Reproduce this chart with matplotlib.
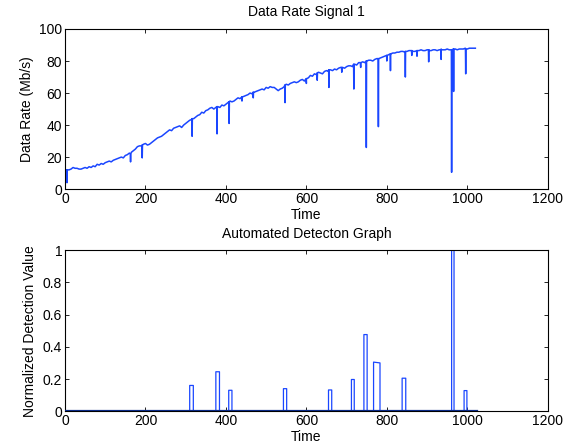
import matplotlib
matplotlib.use("Agg")
import matplotlib.pyplot as plt

plt.rcParams["font.family"] = ["Liberation Sans", "DejaVu Sans"]
plt.rcParams["font.size"] = 10

BLUE = "#1a46ff"

# ─── top panel: data rate trend, read every 5 time units ───
trend_t = list(range(0, 1021, 5))
trend_v = [5, 11, 12, 12.5, 13.5, 13, 13, 12.5, 12.5, 13, 13.5, 13, 14, 13.5, 14.5, 14, 15.5, 15, 16, 15.5,
           16.5, 17, 17.5, 17, 18, 18.5, 19, 19.5, 20, 19.5, 21, 21.5, 22.5, 23, 24, 25, 26.5, 27, 27, 28,
           28.5, 27.5, 28, 29, 30, 31, 32, 32.5, 33, 34, 35, 36, 37, 36.5, 38, 38.5, 39, 39.5, 38.5, 40,
           41, 42, 43, 43.5, 44, 45, 46, 46.5, 48, 47.5, 49, 49.5, 50.5, 51, 50, 51, 51.5, 51, 52.5, 52,
           53, 54, 55, 54.5, 55, 56, 57, 56.5, 57.5, 58, 58.5, 59, 60, 59.5, 60.5, 61, 61.5, 62, 62.5, 62,
           63.5, 63, 64, 63.5, 63.5, 62.5, 61.5, 62.5, 63, 64, 65.5, 65, 66, 66.5, 67, 66.5, 67, 68, 68.5, 67.5,
           68, 69.5, 71, 70.5, 72, 71.5, 73, 72.5, 72, 73.5, 74, 73.5, 74.5, 74, 75, 74.5, 75.5, 76, 76, 75.5,
           76.5, 77, 77, 76.5, 78, 77.5, 79, 78.5, 79.5, 79, 80, 80.5, 80.5, 80, 81, 81.5, 81.5, 82, 82.5, 83,
           83.5, 84, 84.5, 85, 85, 85.5, 85.5, 86, 86, 85.5, 86, 86.5, 86.5, 86, 86, 86.5, 86.5, 87, 86.5, 86.5,
           87, 86.5, 86.5, 87, 87, 86.5, 87, 87.5, 87, 87, 87.5, 87, 87, 87.5, 87.5, 87, 87.5, 87.5, 87.5, 88,
           87.5, 88, 88, 88, 88]

# downward spikes: time, level just before/after, bottom of the dip
spike_t = [5, 163, 192, 316, 378, 408, 440, 468, 547, 600, 627, 656, 688, 718,
           735, 749, 779, 800, 809, 846, 862, 875, 904, 935, 961, 966, 996]
spike_top = [12, 22, 27.5, 44, 51.5, 54.5, 57.5, 60.5, 65, 69, 72.5, 74.5, 76, 78,
             79, 80, 81.5, 83.5, 84.5, 86, 86.5, 86.5, 87, 87, 87, 87.5, 87.5]
spike_low = [4, 17, 19.5, 33, 34.5, 41, 55, 57, 54, 66, 68, 63.5, 73, 62.5,
             76, 26, 39, 80, 74, 70, 83.5, 83, 79.5, 81, 10.5, 61, 72]

# ─── bottom panel: detection pulses ───
pulse_start = [310, 375, 407, 543, 655, 712, 743, 767, 838, 961, 992]
pulse_end = [319, 384, 415, 551, 663, 719, 751, 783, 847, 967, 999]
pulse_h0 = [0.16, 0.245, 0.13, 0.14, 0.132, 0.197, 0.476, 0.305, 0.205, 1.0, 0.128]
pulse_h1 = [0.16, 0.245, 0.13, 0.14, 0.132, 0.197, 0.476, 0.30, 0.205, 1.0, 0.128]
det_end = 1023

# build the data-rate line
pts = list(zip(trend_t, trend_v))
for t, top, low in zip(spike_t, spike_top, spike_low):
    pts += [(t - 0.6, top), (t, low), (t + 0.6, top)]
pts.sort()
rate_t = [p[0] for p in pts]
rate_v = [p[1] for p in pts]

# build the detection step line
det_t = [0]
det_v = [0]
for s, e, h0, h1 in zip(pulse_start, pulse_end, pulse_h0, pulse_h1):
    det_t += [s, s, e, e]
    det_v += [0, h0, h1, 0]
det_t.append(det_end)
det_v.append(0)

fig = plt.figure(figsize=(5.70, 4.46), dpi=100)
ax1 = fig.add_axes([0.114, 0.576, 0.847, 0.359])
ax2 = fig.add_axes([0.114, 0.078, 0.847, 0.361])

ax1.plot(rate_t, rate_v, color=BLUE, linewidth=1.1)
ax1.set_xlim(0, 1200)
ax1.set_ylim(0, 100)
ax1.set_xticks(range(0, 1201, 200))
ax1.set_yticks(range(0, 101, 20))
ax1.set_xlabel("Time", labelpad=1.5)
ax1.set_ylabel("Data Rate (Mb/s)")
ax1.set_title("Data Rate Signal 1", fontsize=10, pad=9)

ax2.plot(det_t, det_v, color=BLUE, linewidth=0.9)
ax2.plot([0, det_end], [0, 0], color="#0a2a85", linewidth=1.6, zorder=3)
ax2.set_xlim(0, 1200)
ax2.set_ylim(0, 1)
ax2.set_xticks(range(0, 1201, 200))
ax2.set_yticks([0, 0.2, 0.4, 0.6, 0.8, 1])
ax2.set_yticklabels(["0", "0.2", "0.4", "0.6", "0.8", "1"])
ax2.set_xlabel("Time", labelpad=1.5)
ax2.set_ylabel("Normalized Detection Value")
ax2.set_title("Automated Detecton Graph", fontsize=10, pad=9)

for ax in (ax1, ax2):
    ax.tick_params(direction="in", top=True, right=True, length=3, width=0.6, pad=2)
    for sp in ax.spines.values():
        sp.set_linewidth(0.8)

fig.savefig("out.png", dpi=100)
